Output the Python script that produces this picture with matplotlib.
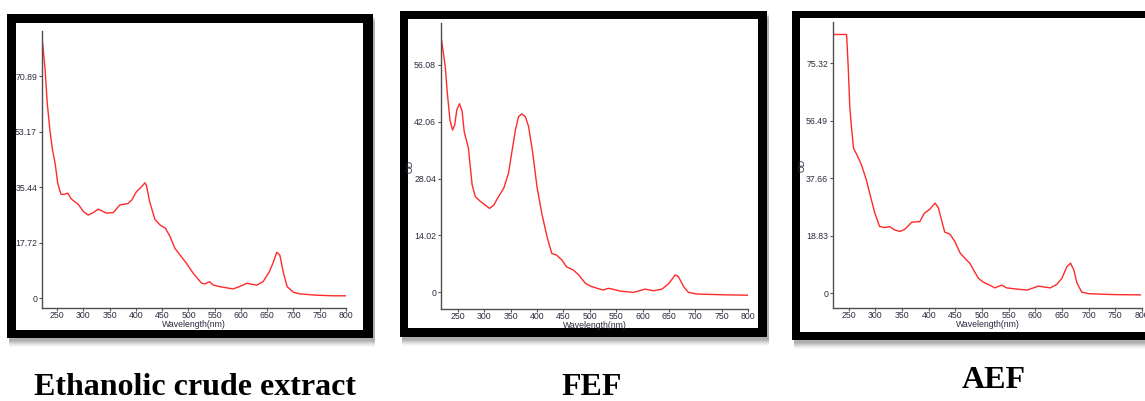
#!/usr/bin/env python3
"""
UV-Vis absorption spectra of the ethanolic crude extract and its fractions
(FEF, AEF), shown as three framed panels with captions underneath.
"""

import matplotlib.pyplot as plt
from matplotlib.patches import Rectangle

# Ethanolic crude extract
crude_wl = [220, 222, 227, 231, 236, 241, 246, 251, 257, 263, 270, 277, 290, 300,
            309, 319, 328, 344, 357, 369, 385, 392, 401, 411, 417, 420, 426, 436,
            446, 456, 465, 474, 484, 496, 509, 525, 531, 540, 547, 560, 585, 598,
            611, 630, 642, 654, 662, 668, 674, 681, 688, 700, 713, 743, 775, 800]
crude_od = [78.8, 81.8, 72.9, 62.3, 53.8, 47.4, 43.1, 36.7, 33.3, 33.2, 33.6, 31.7,
            30.0, 27.7, 26.6, 27.4, 28.5, 27.2, 27.4, 29.8, 30.3, 31.4, 34.1, 35.7,
            36.9, 36.0, 30.9, 25.2, 23.4, 22.4, 19.7, 16.0, 13.8, 11.2, 8.0, 4.8,
            4.6, 5.3, 4.25, 3.7, 3.0, 3.8, 4.8, 4.2, 5.3, 8.5, 11.7, 14.7, 13.8,
            8.0, 3.7, 1.9, 1.4, 1.0, 0.8, 0.8]
crude_ticks = [0, 17.72, 35.44, 53.17, 70.89]

# FEF fraction
fef_wl = [218, 226, 230, 235, 240, 244, 248, 253, 258, 262, 270, 277, 283, 292,
          302, 310, 318, 327, 337, 346, 352, 359, 365, 371, 378, 384, 392, 400,
          409, 419, 428, 437, 447, 456, 469, 479, 492, 501, 514, 526, 535, 543,
          558, 583, 605, 621, 637, 650, 662, 668, 678, 687, 703, 754, 800]
fef_od = [63.2, 55.7, 49.1, 42.5, 40.0, 41.3, 45.0, 46.5, 44.7, 39.6, 35.5, 26.5,
          23.6, 22.5, 21.5, 20.7, 21.5, 23.6, 25.7, 29.4, 34.3, 40.0, 43.3, 44.0,
          43.3, 40.9, 34.3, 26.0, 19.5, 13.7, 9.6, 9.2, 8.0, 6.3, 5.5, 4.3, 2.2,
          1.55, 1.0, 0.57, 1.0, 0.8, 0.3, 0.0, 0.8, 0.4, 0.8, 2.2, 4.3, 3.9, 1.4,
          0.0, -0.4, -0.6, -0.7]
fef_ticks = [0, 14.02, 28.04, 42.06, 56.08]

# AEF fraction (detector saturates below ~246 nm)
aef_wl = [220, 246, 249, 252, 255, 259, 266, 274, 283, 291, 299, 308, 318, 327,
          336, 346, 355, 368, 377, 383, 392, 402, 412, 418, 424, 430, 440, 449,
          459, 468, 477, 484, 493, 502, 512, 524, 537, 546, 571, 585, 606, 616,
          628, 640, 650, 659, 666, 672, 678, 687, 700, 747, 797]
aef_od = [84.8, 84.8, 74.2, 61.1, 54.6, 47.5, 45.1, 42.0, 37.1, 31.6, 26.2, 21.8,
          21.5, 21.8, 20.7, 20.2, 20.9, 23.2, 23.4, 23.4, 26.2, 27.5, 29.5, 28.0,
          24.0, 20.0, 19.3, 16.9, 13.1, 11.4, 9.8, 7.6, 4.9, 3.6, 2.8, 1.7, 2.6,
          1.7, 1.2, 1.0, 2.3, 2.0, 1.7, 2.8, 4.9, 8.6, 9.8, 7.6, 3.3, 0.3, -0.2,
          -0.5, -0.6]
aef_ticks = [0, 18.83, 37.66, 56.49, 75.32]

captions = ['Ethanolic crude extract', 'FEF', 'AEF']
x_ticks = [250, 300, 350, 400, 450, 500, 550, 600, 650, 700, 750, 800]

W, H = 1145, 401
TICK_FONT = 'Liberation Sans'
LABEL_COLOR = '#2b2b40'


def px_axes(fig, left, top, right, bottom):
    """Add an axes given in pixel coordinates (origin top-left)."""
    return fig.add_axes([left / W, (H - bottom) / H,
                         (right - left) / W, (bottom - top) / H])


def draw_frame(bg, x0, y0, x1, y1, inner):
    # soft drop shadow
    for i, a in enumerate([0.10, 0.10, 0.09, 0.08, 0.06, 0.04, 0.03]):
        bg.add_patch(Rectangle((x0 + 2, y0 + 3 + i), x1 - x0, y1 - y0,
                               facecolor='#404040', edgecolor='none', alpha=a))
    bg.add_patch(Rectangle((x0, y0), x1 - x0, y1 - y0, facecolor='black',
                           edgecolor='none'))
    ix0, iy0, ix1, iy1 = inner
    bg.add_patch(Rectangle((ix0, iy0), ix1 - ix0, iy1 - iy0, facecolor='white',
                           edgecolor='none'))


def spectrum(ax, wl, od, ticks, xmin, ylim, show_ylabel):
    ax.plot(wl, od, color='#ff2a2a', linewidth=1.0, solid_joinstyle='round')
    ax.set_xlim(xmin, 800)
    ax.set_ylim(*ylim)
    ax.set_xticks(x_ticks)
    ax.set_yticks(ticks)
    ax.set_yticklabels(['0' if t == 0 else f'{t:.2f}' for t in ticks])
    for s in ['top', 'right']:
        ax.spines[s].set_visible(False)
    for s in ['left', 'bottom']:
        ax.spines[s].set_color('#505050')
        ax.spines[s].set_linewidth(1.0)
    ax.tick_params(axis='both', labelsize=6.3, colors='#505050',
                   labelcolor=LABEL_COLOR, width=0.8)
    ax.tick_params(axis='x', length=2, pad=0.5)
    ax.tick_params(axis='y', length=2.5, pad=1.0)
    for lbl in ax.get_xticklabels() + ax.get_yticklabels():
        lbl.set_fontfamily(TICK_FONT)
    ax.set_xlabel('Wavelength(nm)', fontsize=6.3, color=LABEL_COLOR,
                  labelpad=0, fontfamily=TICK_FONT)
    if show_ylabel:
        ax.set_ylabel('OD', fontsize=6.3, color=LABEL_COLOR,
                      fontfamily=TICK_FONT)
        ax.yaxis.set_label_coords(-0.085, 0.5)
    ax.set_facecolor('none')


def main():
    fig = plt.figure(figsize=(W / 100, H / 100), dpi=100)

    # background layer in pixel units for the frames and captions
    bg = fig.add_axes([0, 0, 1, 1])
    bg.set_xlim(0, W)
    bg.set_ylim(H, 0)
    bg.axis('off')

    draw_frame(bg, 7, 14, 373, 338, (16, 23, 363, 330))
    draw_frame(bg, 400, 11, 767, 337, (408, 19, 758, 328))
    draw_frame(bg, 792, 11, 1160, 340, (800, 18, 1160, 332))

    ax1 = px_axes(fig, 42, 31, 346, 308)
    spectrum(ax1, crude_wl, crude_od, crude_ticks, 221, (-3.1, 85.4), False)

    ax2 = px_axes(fig, 441, 23, 748, 309)
    spectrum(ax2, fef_wl, fef_od, fef_ticks, 218, (-4.1, 66.4), True)

    ax3 = px_axes(fig, 833, 22, 1142, 308)
    spectrum(ax3, aef_wl, aef_od, aef_ticks, 220.5, (-4.9, 88.9), True)

    # captions below the panels
    cap_font = dict(family='Liberation Serif', fontweight='bold', fontsize=23,
                    color='black', ha='center', va='baseline')
    bg.text(195, 395, captions[0], **cap_font)
    bg.text(592, 395, captions[1], **cap_font)
    bg.text(994, 388, captions[2], **cap_font)

    fig.savefig('out.png', dpi=100)


if __name__ == '__main__':
    main()
